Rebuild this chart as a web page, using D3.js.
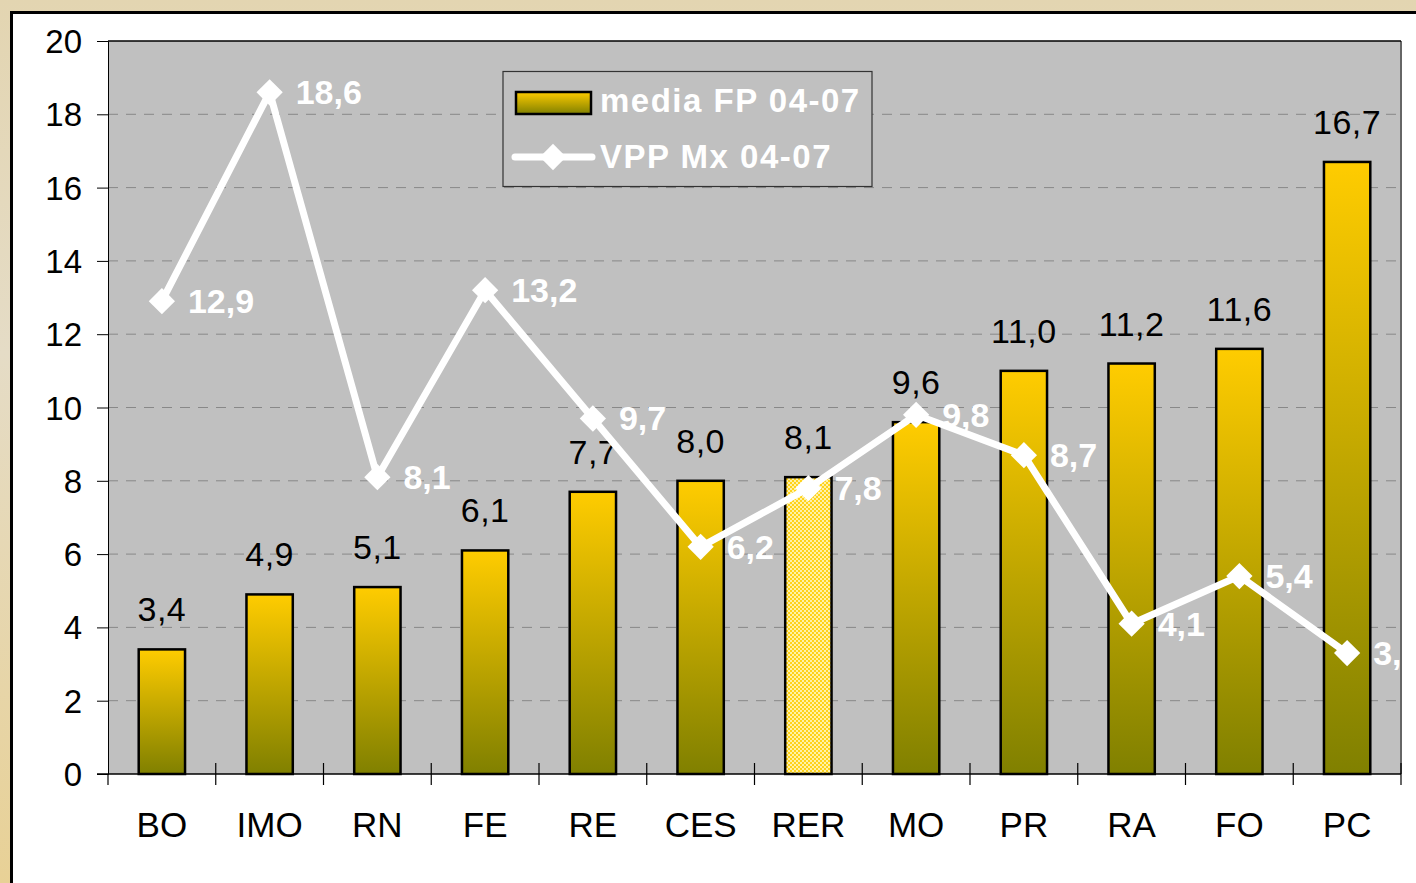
<!DOCTYPE html>
<html><head><meta charset="utf-8">
<script src="https://cdn.jsdelivr.net/npm/d3@7"></script>
<style>html,body{margin:0;padding:0;overflow:hidden;background:#fff}</style>
</head><body>
<svg id="c" width="1416" height="883"></svg>
<script>
const categories = ["BO","IMO","RN","FE","RE","CES","RER","MO","PR","RA","FO","PC"];
const barValues = [3.4,4.9,5.1,6.1,7.7,8.0,8.1,9.6,11.0,11.2,11.6,16.7];
const lineValues = [12.9,18.6,8.1,13.2,9.7,6.2,7.8,9.8,8.7,4.1,5.4,3.3];
const yTicks = [0,2,4,6,8,10,12,14,16,18,20];
const seriesNames = ["media FP 04-07","VPP Mx 04-07"];
const highlighted = "RER";

const FONT = "Arial, 'Liberation Sans', sans-serif";
const svg = d3.select("#c");
const defs = svg.append("defs");
const bg = defs.append("linearGradient").attr("id","bgG").attr("x1",0).attr("y1",0).attr("x2",0).attr("y2",1);
bg.append("stop").attr("offset","0%").attr("stop-color","#e3d5b1");
bg.append("stop").attr("offset","40%").attr("stop-color","#e5dcc6");
bg.append("stop").attr("offset","100%").attr("stop-color","#e8d196");
const bar = defs.append("linearGradient").attr("id","barG").attr("x1",0).attr("y1",0).attr("x2",0).attr("y2",1);
bar.append("stop").attr("offset","0%").attr("stop-color","#ffcc00");
bar.append("stop").attr("offset","100%").attr("stop-color","#808000");
const pat = defs.append("pattern").attr("id","chk").attr("width",4).attr("height",4).attr("patternUnits","userSpaceOnUse");
pat.append("rect").attr("width",4).attr("height",4).attr("fill","#fff2a8");
pat.append("rect").attr("width",2).attr("height",2).attr("fill","#ffd21a");
pat.append("rect").attr("x",2).attr("y",2).attr("width",2).attr("height",2).attr("fill","#ffd21a");
const clip = defs.append("clipPath").attr("id","plotClip");

svg.append("rect").attr("width",1416).attr("height",883).attr("fill","url(#bgG)");
svg.append("rect").attr("x",11.5).attr("y",12.5).attr("width",1420).attr("height",900)
  .attr("fill","#fff").attr("stroke","#000").attr("stroke-width",3);

const L=108, R=1401, T=41, B=774;
clip.append("rect").attr("x",L).attr("y",T).attr("width",R-L).attr("height",B-T);
const x = d3.scaleBand().domain(categories).range([L,R]).paddingInner(0.57).paddingOuter(0.285);
const xb = d3.scaleBand().domain(categories).range([L,R]);
const y = d3.scaleLinear().domain([0,20]).range([B,T]);

svg.append("rect").attr("x",L).attr("y",T).attr("width",R-L).attr("height",B-T).attr("fill","#c0c0c0");
svg.append("line").attr("x1",R).attr("x2",R).attr("y1",T).attr("y2",B).attr("stroke","#666").attr("stroke-width",2);

// gridlines
svg.append("g").selectAll("line").data(yTicks.filter(d=>d>0&&d<20)).join("line")
  .attr("x1",L).attr("x2",R).attr("y1",d=>y(d)).attr("y2",d=>y(d))
  .attr("stroke","#888").attr("stroke-width",1).attr("stroke-dasharray","10,8");
svg.append("line").attr("x1",L).attr("x2",R).attr("y1",T).attr("y2",T).attr("stroke","#000").attr("stroke-width",1.5);

// y axis
const yAxis = d3.axisLeft(y).tickValues(yTicks).tickSize(11).tickFormat(d=>d);
const gy = svg.append("g").attr("transform",`translate(${L},0)`).call(yAxis);
gy.select(".domain").attr("stroke","#000");
gy.selectAll(".tick line").attr("stroke","#000");
gy.selectAll(".tick text").attr("font-family",FONT).attr("font-size",33).attr("fill","#000").attr("x",-26).attr("dy","0.35em");

// bars
svg.append("g").selectAll("rect").data(categories).join("rect")
  .attr("x",d=>x(d)).attr("width",x.bandwidth())
  .attr("y",(d,i)=>y(barValues[i])).attr("height",(d,i)=>B-y(barValues[i]))
  .attr("fill",d=>d===highlighted?"url(#chk)":"url(#barG)")
  .attr("stroke","#000").attr("stroke-width",2.5);

// x axis
svg.append("line").attr("x1",97).attr("x2",R).attr("y1",B).attr("y2",B).attr("stroke","#000").attr("stroke-width",1.5);
const bounds = categories.map(c=>xb(c)).concat([R]);
svg.append("g").selectAll("line").data(bounds).join("line")
  .attr("x1",d=>d).attr("x2",d=>d).attr("y1",(d,i)=>i===0?B:B-11).attr("y2",B+11)
  .attr("stroke","#000").attr("stroke-width",1.2);
svg.append("g").selectAll("text").data(categories).join("text")
  .attr("x",d=>xb(d)+xb.bandwidth()/2).attr("y",837).attr("text-anchor","middle")
  .attr("font-family",FONT).attr("font-size",35).attr("fill","#000").text(d=>d);

// bar labels
const fmt = v => v.toFixed(1).replace(".",",");
svg.append("g").selectAll("text").data(categories).join("text")
  .attr("x",d=>x(d)+x.bandwidth()/2).attr("y",(d,i)=>y(barValues[i])-28).attr("text-anchor","middle")
  .attr("font-family",FONT).attr("font-size",34).attr("letter-spacing",0.5).attr("fill","#000")
  .text((d,i)=>fmt(barValues[i]));

// line
const cx = d=>xb(d)+xb.bandwidth()/2;
const lineGen = d3.line().x((v,i)=>cx(categories[i])).y(v=>y(v));
svg.append("path").datum(lineValues).attr("d",lineGen).attr("fill","none")
  .attr("stroke","#fff").attr("stroke-width",7).attr("stroke-linejoin","miter");
const diamond = d3.symbol().type(d3.symbolDiamond2).size(440);
svg.append("g").selectAll("path").data(lineValues).join("path")
  .attr("d",diamond).attr("transform",(v,i)=>`translate(${cx(categories[i])},${y(v)})`)
  .attr("fill","#fff");
svg.append("g").attr("clip-path","url(#plotClip)").selectAll("text").data(lineValues).join("text")
  .attr("x",(v,i)=>cx(categories[i])+26).attr("y",v=>y(v)+12)
  .attr("font-family",FONT).attr("font-size",34).attr("font-weight","bold").attr("fill","#fff")
  .text(v=>fmt(v));

// legend
const lg = svg.append("g");
lg.append("rect").attr("x",503).attr("y",71.5).attr("width",369).attr("height",115).attr("fill","#c0c0c0").attr("stroke","#333").attr("stroke-width",1.2);
lg.append("rect").attr("x",516).attr("y",92).attr("width",75).attr("height",22).attr("fill","url(#barG)").attr("stroke","#000").attr("stroke-width",2.5);
lg.append("line").attr("x1",515).attr("x2",592).attr("y1",157).attr("y2",157).attr("stroke","#fff").attr("stroke-width",7).attr("stroke-linecap","round");
lg.append("path").attr("d",diamond).attr("transform","translate(553,157)").attr("fill","#fff");
lg.selectAll("text").data(seriesNames).join("text")
  .attr("x",600).attr("y",(d,i)=>i===0?112:168)
  .attr("font-family",FONT).attr("font-size",33).attr("font-weight","bold").attr("fill","#fff")
  .attr("letter-spacing",1.5)
  .text(d=>d);
</script>
</body></html>
